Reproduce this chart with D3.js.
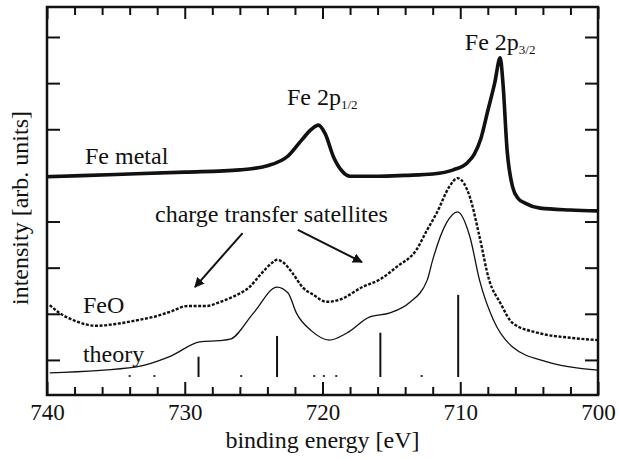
<!DOCTYPE html>
<html>
<head>
<meta charset="utf-8">
<script src="https://cdn.jsdelivr.net/npm/d3@7"></script>
<style>
  body { margin: 0; background: #fff; }
</style>
</head>
<body>
<div id="chart"></div>
<script>
// binding energy [eV], intensity [arb. units]
const feMetal = [
  [740, 4.97], [735, 5.02], [730, 5.07], [726, 5.12], [724, 5.21], [722.5, 5.42],
  [721.5, 5.77], [720.8, 6.0], [720.3, 6.09], [719.8, 5.9], [719.2, 5.4], [718.6, 5.1],
  [718.0, 4.98], [716, 4.98], [714, 5.0], [712, 5.03], [710.5, 5.12], [709.5, 5.27],
  [709.0, 5.45], [708.5, 5.8], [708.0, 6.4], [707.5, 7.0], [707.1, 7.55], [706.9, 7.0],
  [706.6, 5.55], [706.2, 4.75], [705.8, 4.5], [705.3, 4.40], [704.2, 4.29], [702, 4.25], [700, 4.23]
];

const feO = [
  [739.8, 2.19], [739.1, 2.02], [738.0, 1.85], [736.4, 1.74], [735.0, 1.78], [733.3, 1.87],
  [732.3, 1.93], [731.0, 2.05], [729.8, 2.17], [729.0, 2.17], [728.4, 2.17], [727.5, 2.25],
  [726.5, 2.37], [725.3, 2.58], [724.5, 2.85], [723.6, 3.12], [723.3, 3.17], [722.8, 3.10],
  [722.2, 2.89], [721.4, 2.56], [720.7, 2.42], [719.7, 2.26], [718.8, 2.30], [717.1, 2.58],
  [715.8, 2.75], [714.6, 3.02], [713.2, 3.38], [712.4, 3.82], [711.7, 4.19], [710.8, 4.75],
  [710.2, 4.94], [709.3, 4.53], [708.6, 3.67], [707.9, 2.73], [707.1, 2.24], [706.2, 1.80],
  [704.4, 1.59], [702.0, 1.48], [700.0, 1.43]
];

const theory = [
  [739.8, 0.72], [733.5, 0.85], [731.1, 1.07], [728.9, 1.39], [727.5, 1.42], [726.7, 1.45],
  [725.0, 2.02], [723.3, 2.58], [722.5, 2.45], [721.9, 2.02], [720.8, 1.63], [719.5, 1.43],
  [718.2, 1.59], [716.6, 1.93], [715.1, 2.02], [713.7, 2.24], [712.4, 2.73], [712.0, 3.17],
  [711.0, 3.97], [710.2, 4.21], [709.3, 3.67], [708.6, 2.73], [707.6, 1.87], [706.2, 1.28],
  [703.7, 0.96], [700.0, 0.78]
];

// multiplet sticks: energy, top
const sticks = [[729.0, 1.07], [723.3, 1.52], [715.8, 1.59], [710.15, 2.41]];
const smallSticks = [734.0, 732.2, 725.9, 720.6, 719.9, 719.0, 712.8];
const stickBase = 0.63;

const xTicks = [740, 730, 720, 710, 700];
const yTicks = [1, 2, 3, 4, 5, 6, 7, 8];

const serif = "Liberation Serif";

const margin = { top: 7, right: 21, bottom: 64, left: 47 },
      width = 619 - margin.left - margin.right,
      height = 459 - margin.top - margin.bottom;

const svg = d3.select("#chart")
  .append("svg")
  .attr("width", width + margin.left + margin.right)
  .attr("height", height + margin.top + margin.bottom)
  .append("g")
  .attr("transform", `translate(${margin.left},${margin.top})`);

const x = d3.scaleLinear().domain([740, 700]).range([0, width]);
const y = d3.scaleLinear().domain([0.24, 8.65]).range([height, 0]);

const line = d3.line()
  .x(d => x(d[0]))
  .y(d => y(d[1]))
  .curve(d3.curveMonotoneX);

// ticks (inward on all sides)
const minor = d3.range(740, 699, -2).filter(v => v % 10 !== 0);
svg.append("g")
  .attr("transform", `translate(0,${height})`)
  .call(d3.axisBottom(x).tickValues(minor).tickSize(-8).tickFormat(""))
  .call(g => g.select(".domain").remove());
svg.append("g")
  .attr("transform", `translate(0,${height})`)
  .attr("font-family", serif)
  .attr("font-size", 23)
  .call(d3.axisBottom(x).tickValues(xTicks).tickSize(-13).tickPadding(9).tickFormat(d3.format("d")))
  .call(g => g.select(".domain").remove())
  .selectAll("text")
  .attr("fill", "#111")
  .attr("font-family", serif)
  .attr("font-size", 23);
svg.append("g")
  .call(d3.axisTop(x).tickValues(minor).tickSize(-8).tickFormat(""))
  .call(g => g.select(".domain").remove());
svg.append("g")
  .call(d3.axisTop(x).tickValues(xTicks).tickSize(-12).tickFormat(""))
  .call(g => g.select(".domain").remove());
svg.append("g")
  .call(d3.axisLeft(y).tickValues(yTicks).tickSize(-13).tickFormat(""))
  .call(g => g.select(".domain").remove());
svg.append("g")
  .attr("transform", `translate(${width},0)`)
  .call(d3.axisRight(y).tickValues(yTicks).tickSize(-13).tickFormat(""))
  .call(g => g.select(".domain").remove());
svg.selectAll(".tick line").attr("stroke", "#111").attr("stroke-width", 2);

// frame
svg.append("rect")
  .attr("width", width).attr("height", height)
  .attr("fill", "none").attr("stroke", "#111").attr("stroke-width", 2.5);

// sticks
svg.selectAll(".stick")
  .data(sticks)
  .enter().append("line")
  .attr("x1", d => x(d[0])).attr("x2", d => x(d[0]))
  .attr("y1", y(stickBase)).attr("y2", d => y(d[1]))
  .attr("stroke", "#111").attr("stroke-width", 2);
svg.selectAll(".small-stick")
  .data(smallSticks)
  .enter().append("line")
  .attr("x1", d => x(d)).attr("x2", d => x(d))
  .attr("y1", y(stickBase)).attr("y2", y(stickBase) - 2)
  .attr("stroke", "#333").attr("stroke-width", 2);

// curves
svg.append("path").datum(theory)
  .attr("fill", "none").attr("stroke", "#111").attr("stroke-width", 1.3)
  .attr("d", line);
svg.append("path").datum(feO)
  .attr("fill", "none").attr("stroke", "#111").attr("stroke-width", 2.4)
  .attr("stroke-dasharray", "3,1.6")
  .attr("d", line);
svg.append("path").datum(feMetal)
  .attr("fill", "none").attr("stroke", "#111").attr("stroke-width", 3.6)
  .attr("stroke-linejoin", "round")
  .attr("d", line);

// arrows
const arrows = [
  [[725.8, 3.75], [729.26, 2.58]],
  [[721.79, 3.82], [717.14, 3.12]]
];
svg.append("defs").append("marker")
  .attr("id", "head")
  .attr("viewBox", "0 0 10 10")
  .attr("refX", 9).attr("refY", 5)
  .attr("markerWidth", 5).attr("markerHeight", 5)
  .attr("orient", "auto")
  .append("path").attr("d", "M0,0 L10,5 L0,10 z").attr("fill", "#111");
arrows.forEach(a => {
  svg.append("line")
    .attr("x1", x(a[0][0])).attr("y1", y(a[0][1]))
    .attr("x2", x(a[1][0])).attr("y2", y(a[1][1]))
    .attr("stroke", "#111").attr("stroke-width", 2)
    .attr("marker-end", "url(#head)");
});

// labels
const labels = [
  { t: "Fe metal", e: 737.24, v: 5.25 },
  { t: "charge transfer satellites", e: 732.16, v: 3.99 },
  { t: "FeO", e: 737.39, v: 2.02 },
  { t: "theory", e: 737.39, v: 0.96 }
];
labels.forEach(l => {
  svg.append("text")
    .attr("x", x(l.e)).attr("y", y(l.v))
    .attr("fill", "#111")
    .attr("font-family", serif)
    .attr("font-size", 24)
    .text(l.t);
});

const peaks = [
  { sub: "1/2", e: 722.58, v: 6.53 },
  { sub: "3/2", e: 709.67, v: 7.72 }
];
peaks.forEach(p => {
  const t = svg.append("text")
    .attr("x", x(p.e)).attr("y", y(p.v))
    .attr("fill", "#111")
    .attr("font-family", serif)
    .attr("font-size", 24);
  t.append("tspan").text("Fe 2p");
  t.append("tspan").attr("dy", 4).attr("font-size", 13).text(p.sub);
});

// axis titles
svg.append("text")
  .attr("x", width / 2)
  .attr("y", height + 53)
  .attr("text-anchor", "middle")
  .attr("fill", "#111")
  .attr("font-family", serif)
  .attr("font-size", 24)
  .text("binding energy [eV]");

svg.append("text")
  .attr("transform", `translate(${-19},${height / 2 + 7}) rotate(-90)`)
  .attr("text-anchor", "middle")
  .attr("fill", "#111")
  .attr("font-family", serif)
  .attr("font-size", 24)
  .text("intensity [arb. units]");
</script>
</body>
</html>
